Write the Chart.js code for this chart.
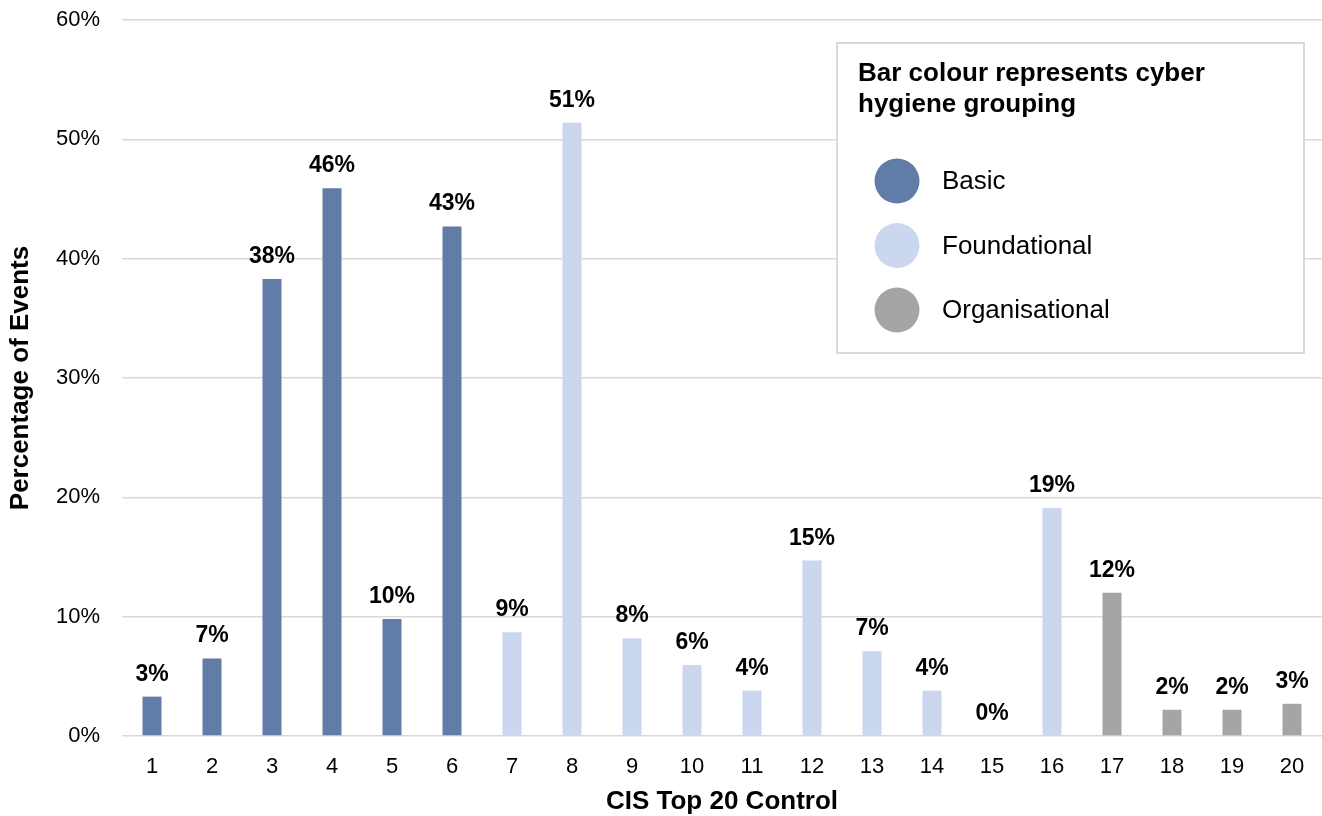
<!DOCTYPE html>
<html>
<head>
<meta charset="utf-8">
<script src="https://cdn.jsdelivr.net/npm/chart.js@4/dist/chart.umd.min.js"></script>
<style>
  html, body { margin: 0; padding: 0; background: #fff; }
  #wrap { width: 1322px; height: 816px; position: relative; }
</style>
</head>
<body>
<div id="wrap"><canvas id="cisChart"></canvas></div>
<script>
const controls = ["1", "2", "3", "4", "5", "6", "7", "8", "9", "10",
                  "11", "12", "13", "14", "15", "16", "17", "18", "19", "20"];

// percentage of events per control, split by hygiene group
const basicValues = [3.3, 6.5, 38.3, 45.9, 9.8, 42.7, null, null, null, null,
                     null, null, null, null, null, null, null, null, null, null];
const foundationalValues = [null, null, null, null, null, null, 8.7, 51.4, 8.2, 5.95,
                            3.8, 14.7, 7.1, 3.8, 0, 19.1, null, null, null, null];
const organisationalValues = [null, null, null, null, null, null, null, null, null, null,
                              null, null, null, null, null, null, 12.0, 2.2, 2.2, 2.7];

const yTicks = [0, 10, 20, 30, 40, 50, 60];

const groupNames = ["Basic", "Foundational", "Organisational"];
const COLORS = {
    basic: "#627ca8",
    foundational: "#cad7ee",
    organisational: "#a5a5a5",
    grid: "#d9d9d9",
    text: "#000000",
};

const FONT = "'Liberation Sans', Arial, sans-serif";

// value labels above each bar
const barLabels = {
    id: "barLabels",
    afterDatasetsDraw(chart) {
        const ctx = chart.ctx;
        ctx.save();
        ctx.font = "bold 23px " + FONT;
        ctx.fillStyle = COLORS.text;
        ctx.textAlign = "center";
        ctx.textBaseline = "alphabetic";
        chart.data.datasets.forEach((ds, i) => {
            chart.getDatasetMeta(i).data.forEach((bar, j) => {
                const v = ds.data[j];
                if (v === null || v === undefined) return;
                ctx.fillText(Math.round(v) + "%", bar.x, bar.y - 16);
            });
        });
        ctx.restore();
    },
};

// boxed legend in the top right corner of the plot
const boxLegend = {
    id: "boxLegend",
    afterDraw(chart) {
        const ctx = chart.ctx;
        const x = 837, y = 43, w = 467, h = 310;
        ctx.save();
        ctx.fillStyle = "#ffffff";
        ctx.fillRect(x, y, w, h);
        ctx.strokeStyle = COLORS.grid;
        ctx.lineWidth = 2;
        ctx.strokeRect(x, y, w, h);

        ctx.fillStyle = COLORS.text;
        ctx.textAlign = "left";
        ctx.textBaseline = "middle";
        ctx.font = "bold 26px " + FONT;
        ctx.fillText("Bar colour represents cyber", 858, 74);
        ctx.fillText("hygiene grouping", 858, 105);

        ctx.font = "26px " + FONT;
        chart.data.datasets.forEach((ds, i) => {
            const cy = 181 + i * 64.5;
            ctx.beginPath();
            ctx.arc(897, cy, 22.5, 0, Math.PI * 2);
            ctx.fillStyle = ds.backgroundColor;
            ctx.fill();
            ctx.fillStyle = COLORS.text;
            ctx.fillText(ds.label, 942, cy + 1);
        });
        ctx.restore();
    },
};

const makeSet = (label, data, color) => ({
    label,
    data,
    backgroundColor: color,
    borderWidth: 0,
    grouped: false,
    barPercentage: 0.317,
    categoryPercentage: 1,
});

new Chart(document.getElementById("cisChart"), {
    type: "bar",

    data: {
        labels: controls,

        datasets: [
            makeSet(groupNames[0], basicValues, COLORS.basic),
            makeSet(groupNames[1], foundationalValues, COLORS.foundational),
            makeSet(groupNames[2], organisationalValues, COLORS.organisational),
        ],
    },

    options: {
        responsive: true,
        maintainAspectRatio: false,
        animation: false,

        layout: {
            padding: { top: 20, right: 0, bottom: 0, left: 0 },
        },

        plugins: {
            legend: { display: false },
            tooltip: { enabled: false },
        },

        scales: {
            x: {
                grid: { display: false },
                border: { display: false },

                ticks: {
                    color: COLORS.text,
                    padding: 10,
                    font: { family: FONT, size: 22 },
                },

                title: {
                    display: true,
                    text: "CIS Top 20 Control",
                    color: COLORS.text,
                    padding: { top: 0, bottom: 0 },
                    font: { family: FONT, size: 26, weight: "bold", lineHeight: 1.1 },
                },

                afterFit: (scale) => { scale.height = 80; },
            },

            y: {
                min: 0,
                max: 60,
                border: { display: false },

                grid: {
                    color: COLORS.grid,
                    lineWidth: 1.5,
                    drawTicks: false,
                },

                afterBuildTicks: (scale) => {
                    scale.ticks = yTicks.map((v) => ({ value: v }));
                },

                ticks: {
                    color: COLORS.text,
                    padding: 22,
                    font: { family: FONT, size: 22 },
                    callback: (v) => v + "%",
                },

                title: {
                    display: true,
                    text: "Percentage of Events",
                    color: COLORS.text,
                    padding: { top: 5, bottom: 0 },
                    font: { family: FONT, size: 26, weight: "bold" },
                },

                afterFit: (scale) => {
                    scale.width = 122;
                    scale.paddingTop = 0;
                    scale.paddingBottom = 0;
                },
            },
        },
    },

    plugins: [barLabels, boxLegend],
});
</script>
</body>
</html>
